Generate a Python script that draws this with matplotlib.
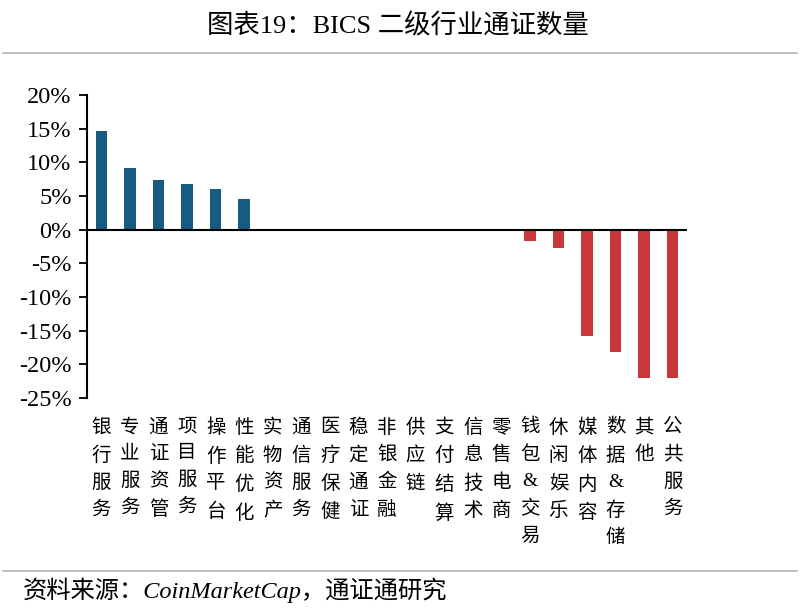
import matplotlib
matplotlib.use("Agg")
import matplotlib.pyplot as plt
from matplotlib.lines import Line2D
import numpy as np

FONTS = ['Liberation Serif', 'Noto Sans CJK SC']
plt.rcParams['font.family'] = FONTS

categories = ["银行服务", "专业服务", "通证资管", "项目服务", "操作平台", "性能优化",
              "实物资产", "通信服务", "医疗保健", "稳定通证", "非银金融", "供应链",
              "支付结算", "信息技术", "零售电商", "钱包&交易", "休闲娱乐", "媒体内容",
              "数据&存储", "其他", "公共服务"]
values = [14.6, 9.2, 7.4, 6.8, 6.1, 4.5,
          0, 0, 0, 0, 0, 0, 0, 0, 0,
          -1.7, -2.7, -15.8, -18.1, -22.1, -22.1]
yticks = [20, 15, 10, 5, 0, -5, -10, -15, -20, -25]

BLUE = "#175b82"
RED = "#c8383a"

fig = plt.figure(figsize=(8, 6.11), dpi=100)
ax = fig.add_axes([0.10875, 0.3486, 0.75, 0.4959])

x = np.arange(len(categories))
colors = [BLUE if v > 0 else RED for v in values]
ax.bar(x, values, width=0.4, color=colors, zorder=2)

ax.set_xlim(-0.5, len(categories) - 0.5)
ax.set_ylim(-25, 20)
ax.set_yticks(yticks)
ax.set_yticklabels([f"{t}%" for t in yticks], fontsize=17.5)
ax.tick_params(axis='y', direction='out', length=6, width=1.3, pad=5)

ax.axhline(0, color='black', linewidth=1.5, zorder=3)
for s in ['top', 'right', 'bottom']:
    ax.spines[s].set_visible(False)
ax.spines['left'].set_linewidth(1.5)

ax.set_xticks(x)
ax.set_xticklabels(["\n".join(c) for c in categories],
                   fontsize=14, va='top', linespacing=1.72)
ax.tick_params(axis='x', length=0, pad=15)

# title and rules
fig.text(0.497, 0.958, "图表19：BICS 二级行业通证数量", ha='center', va='center', fontsize=19)
fig.add_artist(Line2D([0.004, 0.996], [0.913, 0.913], color='#b0b0b0', linewidth=1.2))
fig.add_artist(Line2D([0.004, 0.996], [0.066, 0.066], color='#b0b0b0', linewidth=1.2))
fig.text(0.028, 0.034, "资料来源：CoinMarketCap，通证通研究", ha='left', va='center',
         fontsize=17.5, style='italic')

fig.savefig("out.png", dpi=100)
